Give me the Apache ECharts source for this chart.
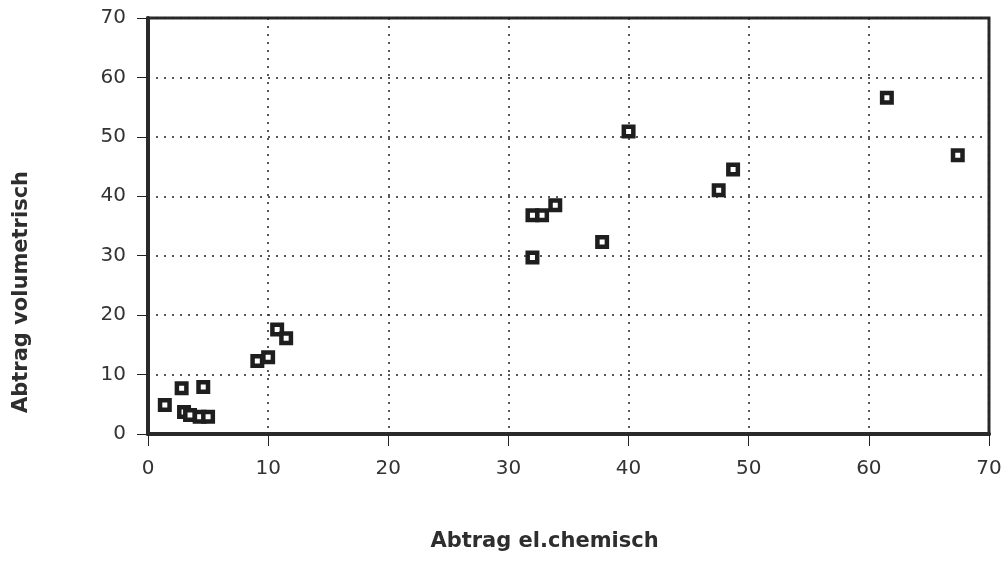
<!DOCTYPE html>
<html>
<head>
<meta charset="utf-8">
<script src="https://cdn.jsdelivr.net/npm/echarts@6/dist/echarts.min.js"></script>
<style>html,body{margin:0;padding:0;background:#fff}#c{width:1005px;height:565px}</style>
</head>
<body>
<div id="c"></div>
<script>
const xValues = [1.4, 2.8, 4.6, 3.0, 3.5, 4.3, 5.0, 9.1, 10.0, 10.75, 11.5, 32.0, 32.8, 33.9, 32.0, 37.8, 40.0, 47.5, 48.7, 61.5, 67.4];
const yValues = [4.9, 7.7, 7.9, 3.7, 3.2, 2.9, 2.9, 12.3, 12.9, 17.6, 16.1, 36.8, 36.8, 38.5, 29.7, 32.3, 50.9, 41.0, 44.5, 56.6, 46.9];
const xTicks = [0, 10, 20, 30, 40, 50, 60, 70];
const yTicks = [0, 10, 20, 30, 40, 50, 60, 70];
const xName = 'Abtrag el.chemisch';
const yName = 'Abtrag volumetrisch';

const points = xValues.map((x, i) => [x, yValues[i]]);
const chart = echarts.init(document.getElementById('c'));
const font = '"DejaVu Sans", sans-serif';
chart.setOption({
  animation: false,
  backgroundColor: '#fff',
  grid: { left: 148, right: 16, top: 18, bottom: 131, show: true, borderColor: '#2a2a2a', borderWidth: 3, backgroundColor: 'transparent' },
  xAxis: {
    type: 'value', min: xTicks[0], max: xTicks[xTicks.length - 1], interval: 10,
    name: xName, nameLocation: 'middle', nameGap: 97,
    nameTextStyle: { fontFamily: font, fontSize: 21, fontWeight: 'bold', color: '#2e2e2e', padding: [0, 48, 0, 0] },
    axisLine: { show: true, lineStyle: { color: '#2a2a2a', width: 4 } },
    axisTick: { show: true, length: 12, inside: false, lineStyle: { color: '#222', width: 1 } },
    axisLabel: { fontFamily: font, fontSize: 20, color: '#333', margin: 25 },
    splitLine: { show: true, lineStyle: { color: '#222', type: [2, 6], width: 1.5 } }
  },
  yAxis: {
    type: 'value', min: yTicks[0], max: yTicks[yTicks.length - 1], interval: 10,
    name: yName, nameLocation: 'middle', nameGap: 116, nameRotate: 90,
    nameTextStyle: { fontFamily: font, fontSize: 21, fontWeight: 'bold', color: '#2e2e2e', padding: [0, 132, 0, 0] },
    axisLine: { show: true, lineStyle: { color: '#2a2a2a', width: 4 } },
    axisTick: { show: true, length: 11, inside: false, lineStyle: { color: '#222', width: 1 } },
    axisLabel: { fontFamily: font, fontSize: 20, color: '#333', margin: 22 },
    splitLine: { show: true, lineStyle: { color: '#222', type: [2, 6], width: 1.5 } }
  },
  series: [{
    type: 'scatter',
    data: points,
    symbol: 'rect',
    symbolSize: 9.5,
    itemStyle: { color: '#fff', borderColor: '#1e1e1e', borderWidth: 4.5, opacity: 1 }
  }]
});
</script>
</body>
</html>
